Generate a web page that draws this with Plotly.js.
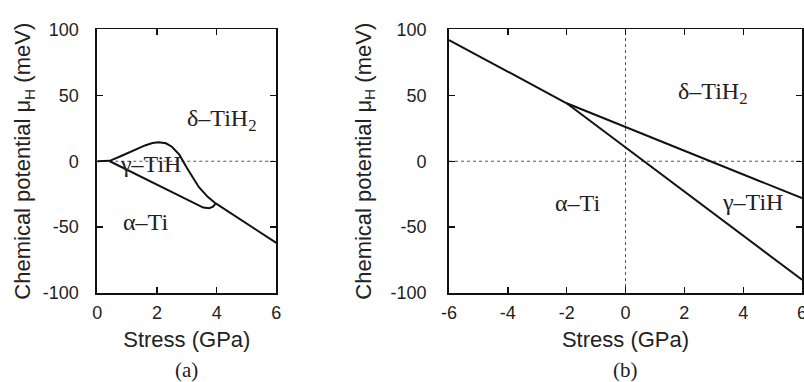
<!DOCTYPE html>
<html>
<head>
<meta charset="utf-8">
<script src="https://cdn.plot.ly/plotly-3.0.1.min.js"></script>
<style>html,body{margin:0;padding:0;background:#fff;}#chart{width:804px;height:382px;}</style>
</head>
<body>
<div id="chart"></div>
<script>
// ---- Panel (a): stress 0..6 GPa ----
const aUpperStress = [0, 0.42, 0.8, 1.2, 1.6, 1.85, 2.05, 2.3, 2.5, 2.75, 3.0, 3.4, 3.7, 3.97];
const aUpperMu     = [0, 0.3, 4, 8, 12, 13.8, 14.5, 13.6, 11, 5, -5, -19.5, -27, -32];
const aLowerStress = [0.42, 1.0, 2.0, 3.0, 3.3, 3.55, 3.75, 3.88, 3.97];
const aLowerMu     = [0, -6.5, -17.7, -29, -32.5, -35.2, -35.6, -34.5, -32];
const aTailStress  = [3.97, 6];
const aTailMu      = [-32, -62];

// ---- Panel (b): stress -6..6 GPa ----
const bAlphaDeltaStress = [-6, -2];
const bAlphaDeltaMu     = [92, 44];
const bGammaDeltaStress = [-2, 6];
const bGammaDeltaMu     = [44, -28];
const bAlphaGammaStress = [-2, 6];
const bAlphaGammaMu     = [44, -90];

// ---- Tick labels ----
const aXTicks = [0, 2, 4, 6];
const bXTicks = [-6, -4, -2, 0, 2, 4, 6];
const yTicks  = [-100, -50, 0, 50, 100];
const aXTickText = ["0", "2", "4", "6"];
const bXTickText = ["-6", "-4", "-2", "0", "2", "4", "6"];
const yTickText  = ["-100", "-50", "0", "50", "100"];

// ---- Phase labels ----
const aLabels = [
  {text: "δ–TiH<sub>2</sub>", x: 4.17, y: 31},
  {text: "γ–TiH", x: 1.77, y: -2},
  {text: "α–Ti", x: 1.6, y: -46}
];
const bLabels = [
  {text: "δ–TiH<sub>2</sub>", x: 2.96, y: 52},
  {text: "α–Ti", x: -1.62, y: -32},
  {text: "γ–TiH", x: 4.32, y: -31}
];

const lineStyle = {color: "#111", width: 2};
function tr(x, y, xa, ya) {
  return {x: x, y: y, xaxis: xa, yaxis: ya, type: "scatter", mode: "lines",
          line: lineStyle, hoverinfo: "skip", showlegend: false};
}
const data = [
  tr(aUpperStress, aUpperMu, "x", "y"),
  tr(aLowerStress, aLowerMu, "x", "y"),
  tr(aTailStress, aTailMu, "x", "y"),
  tr(bAlphaDeltaStress, bAlphaDeltaMu, "x2", "y2"),
  tr(bGammaDeltaStress, bGammaDeltaMu, "x2", "y2"),
  tr(bAlphaGammaStress, bAlphaGammaMu, "x2", "y2")
];

const tickFont = {family: "Liberation Sans, Arial, sans-serif", size: 18, color: "#222"};
const titleFont = {family: "Liberation Sans, Arial, sans-serif", size: 22, color: "#222"};
const serif = {family: "Liberation Serif, Times New Roman, serif", size: 24, color: "#222"};

function xAxis(domain, range, vals, text, anchor) {
  return {domain: domain, range: range, anchor: anchor, tickmode: "array", tickvals: vals, ticktext: text,
          ticks: "inside", ticklen: 6, tickwidth: 1.3, tickcolor: "#111",
          showline: true, linecolor: "#111", linewidth: 1.8, mirror: "ticks",
          showgrid: false, zeroline: false, tickfont: tickFont, ticklabelstandoff: 3,
          ticklabeloverflow: "allow",
          title: {text: "Stress (GPa)", font: titleFont, standoff: 9}};
}
function yAxis(domain, anchor, labelGap, titleGap) {
  return {domain: domain, range: [-100, 100], anchor: anchor, tickmode: "array", tickvals: yTicks, ticktext: yTickText,
          ticks: "inside", ticklen: 6, tickwidth: 1.3, tickcolor: "#111",
          showline: true, linecolor: "#111", linewidth: 1.8, mirror: "ticks",
          showgrid: false, zeroline: false, tickfont: tickFont, ticklabelstandoff: labelGap,
          ticklabeloverflow: "allow",
          title: {text: "Chemical potential μ<sub>H</sub> (meV)", font: titleFont, standoff: titleGap}};
}

const yDom = [0.233, 0.9228];
const annotations = [];
aLabels.forEach(l => annotations.push({text: l.text, x: l.x, y: l.y, xref: "x", yref: "y", showarrow: false, font: serif}));
bLabels.forEach(l => annotations.push({text: l.text, x: l.x, y: l.y, xref: "x2", yref: "y2", showarrow: false, font: serif}));
annotations.push({text: "(a)", x: 0.2325, y: 0.032, xref: "paper", yref: "paper", showarrow: false,
                  xanchor: "center", yanchor: "middle", font: {family: serif.family, size: 21, color: "#222"}});
annotations.push({text: "(b)", x: 0.778, y: 0.032, xref: "paper", yref: "paper", showarrow: false,
                  xanchor: "center", yanchor: "middle", font: {family: serif.family, size: 21, color: "#222"}});

const dotted = {color: "#555", width: 1, dash: "dot"};
const layout = {
  width: 804, height: 382,
  margin: {l: 0, r: 0, t: 0, b: 0},
  paper_bgcolor: "#fff", plot_bgcolor: "#fff",
  showlegend: false,
  xaxis: xAxis([0.121, 0.3437], [0, 6], aXTicks, aXTickText, "y"),
  yaxis: yAxis(yDom, "x", 13, 6),
  xaxis2: xAxis([0.5585, 0.9975], [-6, 6], bXTicks, bXTickText, "y2"),
  yaxis2: yAxis(yDom, "x2", 17, 13),
  shapes: [
    {type: "line", xref: "x domain", yref: "y", x0: 0, x1: 1, y0: 0, y1: 0, line: dotted, layer: "below"},
    {type: "line", xref: "x2 domain", yref: "y2", x0: 0, x1: 1, y0: 0, y1: 0, line: dotted, layer: "below"},
    {type: "line", xref: "x2", yref: "y2 domain", x0: 0, x1: 0, y0: 0, y1: 1, line: dotted, layer: "below"}
  ],
  annotations: annotations
};
Plotly.newPlot("chart", data, layout, {displayModeBar: false, staticPlot: true});
</script>
</body>
</html>
